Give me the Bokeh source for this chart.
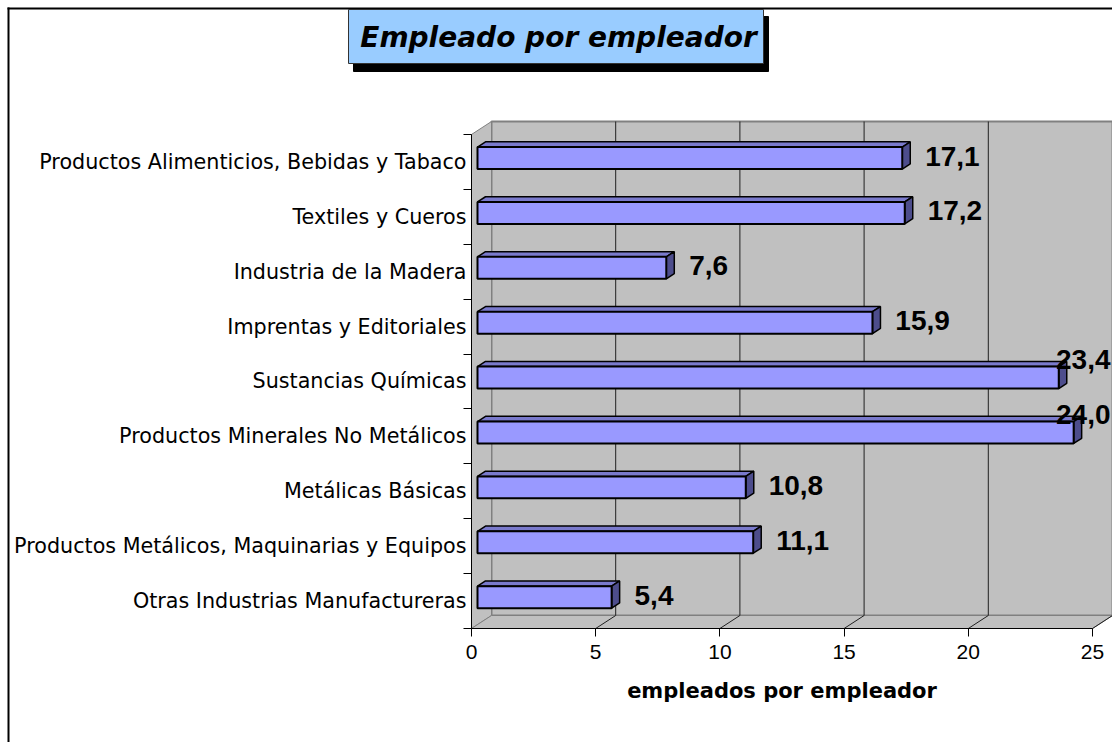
from bokeh.plotting import figure
from bokeh.models import FixedTicker, Label, ColumnDataSource
from bokeh.core.properties import value
from bokeh.embed import file_html
from bokeh.resources import INLINE

# ---------------- data ----------------
categories = [
    "Productos Alimenticios, Bebidas y Tabaco",
    "Textiles y Cueros",
    "Industria de la Madera",
    "Imprentas y Editoriales",
    "Sustancias Químicas",
    "Productos Minerales No Metálicos",
    "Metálicas Básicas",
    "Productos Metálicos, Maquinarias y Equipos",
    "Otras Industrias Manufactureras",
]
values = [17.1, 17.2, 7.6, 15.9, 23.4, 24.0, 10.8, 11.1, 5.4]
value_labels = ["17,1", "17,2", "7,6", "15,9", "23,4", "24,0", "10,8", "11,1", "5,4"]
x_ticks = [0, 5, 10, 15, 20, 25]
title_text = "Empleado por empleador"
x_title = "empleados por empleador"

# ---------------- layout (pixels) ----------------
W, H = 1112, 742
X0_PX = 471            # pixel column of value 0 (front plane)
Y0_PX = 628            # pixel row of the front floor edge
PX_X = 24.84           # px per unit on value axis
PX_Y = 54.89           # px per category
XMAX = x_ticks[-1]
NCAT = len(categories)


def px2x(px):
    return (px - X0_PX) / PX_X


def px2y(py):
    return (Y0_PX - py) / PX_Y


DX = 20 / PX_X         # depth offset (data units)
DY = 13 / PX_Y

WALL = "#C0C0C0"
EDGE = "#808080"
BAR = "#9999FF"
BAR_TOP = "#7A7ACC"
BAR_SIDE = "#4D4D8C"

p = figure(width=W, height=H, x_range=(px2x(0), px2x(W)), y_range=(px2y(H), px2y(0)),
           output_backend="svg", toolbar_location=None,
           min_border_left=0, min_border_right=0,
           min_border_top=0, min_border_bottom=0)
p.outline_line_color = None
p.grid.visible = False
p.background_fill_color = "white"
p.border_fill_color = "white"

# ---------------- chart area border (left / top) ----------------
p.segment(x0=[px2x(8), px2x(7)], y0=[px2y(7), px2y(8)],
          x1=[px2x(8), px2x(W)], y1=[px2y(H), px2y(8)],
          line_color="black", line_width=2)

# ---------------- title box with shadow ----------------
p.quad(left=[px2x(353)], right=[px2x(768)], top=[px2y(16)], bottom=[px2y(71)],
       fill_color="black", line_color="black")
p.quad(left=[px2x(348)], right=[px2x(763)], top=[px2y(9)], bottom=[px2y(63)],
       fill_color="#99CCFF", line_color="#333333", line_width=1)
p.add_layout(Label(x=px2x(558), y=px2y(37), text=title_text,
                   text_align="center", text_baseline="middle",
                   text_font="DejaVu Sans", text_font_style="bold italic",
                   text_font_size="28px", text_color="black"))

# ---------------- 3D walls ----------------
p.patch([DX, XMAX + DX, XMAX + DX, DX], [DY, DY, NCAT + DY, NCAT + DY],
        fill_color=WALL, line_color=EDGE, line_width=2)
p.patch([0, DX, DX, 0], [0, DY, NCAT + DY, NCAT],
        fill_color=WALL, line_color=EDGE, line_width=1)
p.patch([0, XMAX, XMAX + DX, DX], [0, 0, DY, DY],
        fill_color=WALL, line_color=EDGE, line_width=1)
inner = [t for t in x_ticks if 0 < t < XMAX]
p.segment(x0=[t + DX for t in inner], y0=[DY] * len(inner),
          x1=[t + DX for t in inner], y1=[NCAT + DY] * len(inner),
          line_color="#202020", line_width=1)
fl = [t for t in x_ticks if t > 0]
p.segment(x0=fl, y0=[0] * len(fl), x1=[t + DX for t in fl], y1=[DY] * len(fl),
          line_color="#202020", line_width=1)

# ---------------- 3D bars ----------------
F0 = 0.3               # front face depth fraction
FD = 0.4               # bar depth fraction
HALF = 0.2             # half bar height (categories)
fx0 = F0 * DX
fy0 = F0 * DY
ddx, ddy = FD * DX, FD * DY
centers = [NCAT - 0.5 - i for i in range(NCAT)]
yb = [c - HALF + fy0 for c in centers]
yt = [c + HALF + fy0 for c in centers]
x1 = [v + fx0 for v in values]

top_xs = [[fx0, r, r + ddx, fx0 + ddx] for r in x1]
top_ys = [[t, t, t + ddy, t + ddy] for t in yt]
side_xs = [[r, r + ddx, r + ddx, r] for r in x1]
side_ys = [[b, b + ddy, t + ddy, t] for b, t in zip(yb, yt)]
p.patches(top_xs, top_ys, fill_color=BAR_TOP, line_color="black", line_width=1.5)
p.patches(side_xs, side_ys, fill_color=BAR_SIDE, line_color="black", line_width=1.5)
p.quad(left=[fx0] * NCAT, right=x1, bottom=yb, top=yt,
       fill_color=BAR, line_color="black", line_width=2)

# ---------------- value labels ----------------
x_limit = px2x(W)
GAP = 0.6
LAB_W = 2.3
norm = dict(x=[], y=[], t=[])
over = dict(x=[], y=[], t=[])
for r, b, t, s in zip(x1, yb, yt, value_labels):
    xl = r + ddx + GAP
    if xl + LAB_W > x_limit:
        over["x"].append(x_limit - 0.08)
        over["y"].append(t + ddy + 0.03)
        over["t"].append(s)
    else:
        norm["x"].append(xl)
        norm["y"].append((b + t) / 2 + 0.036)
        norm["t"].append(s)
lab_font = value("Liberation Sans")
p.text(x="x", y="y", text="t", source=ColumnDataSource(norm),
       text_font=lab_font, text_font_style="bold", text_font_size="28px",
       text_align="left", text_baseline="middle", text_color="black")
p.text(x="x", y="y", text="t", source=ColumnDataSource(over),
       text_font=lab_font, text_font_style="bold", text_font_size="28px",
       text_align="right", text_baseline="alphabetic", text_color="black")

# ---------------- axes ----------------
ya = p.yaxis[0]
ya.fixed_location = 0
ya.ticker = FixedTicker(ticks=centers, minor_ticks=list(range(NCAT + 1)))
ya.major_label_overrides = {c: cat for c, cat in zip(centers, categories)}
ya.bounds = (0, NCAT)
ya.major_tick_line_color = None
ya.major_tick_out = 0
ya.major_tick_in = 0
ya.minor_tick_out = 8
ya.minor_tick_in = 0
ya.minor_tick_line_color = "black"
ya.axis_line_color = "black"
ya.major_label_standoff = -3
ya.major_label_text_font = "DejaVu Sans"
ya.major_label_text_font_size = "20.7px"
ya.major_label_text_color = "black"

xa = p.xaxis[0]
xa.fixed_location = 0
xa.ticker = FixedTicker(ticks=x_ticks, minor_ticks=[])
xa.bounds = (0, XMAX)
xa.major_tick_out = 8
xa.major_tick_in = 0
xa.major_tick_line_color = "black"
xa.axis_line_color = "black"
xa.major_label_standoff = 8
xa.major_label_text_font = "Liberation Sans"
xa.major_label_text_font_size = "21px"
xa.major_label_text_color = "black"
xa.axis_label = x_title
xa.axis_label_text_font = "DejaVu Sans"
xa.axis_label_text_font_style = "bold"
xa.axis_label_text_font_size = "21px"
xa.axis_label_text_color = "black"
xa.axis_label_standoff = 17

open("out.html", "w").write(file_html(p, INLINE))
